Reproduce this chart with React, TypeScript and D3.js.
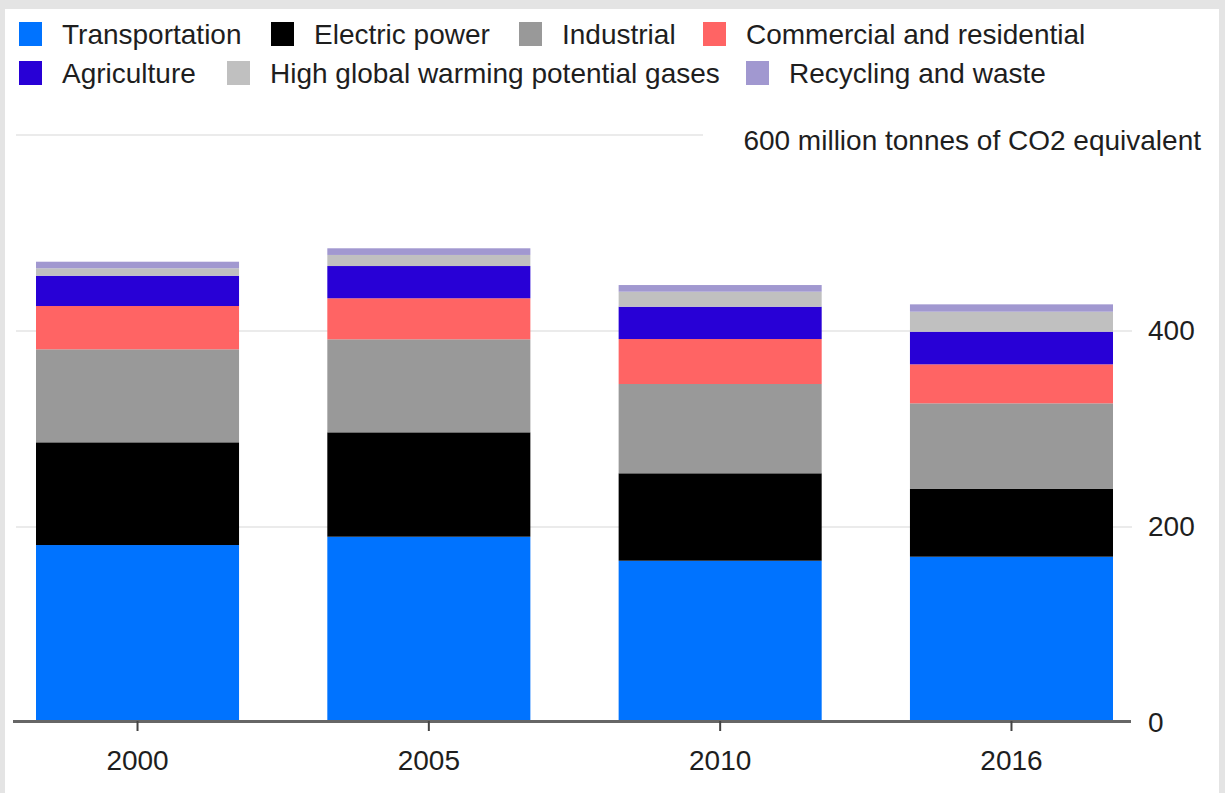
import React, { useEffect, useRef } from "react";
import * as d3 from "d3";

const years = ["2000", "2005", "2010", "2016"];
const sectors = [
  "Transportation",
  "Electric power",
  "Industrial",
  "Commercial and residential",
  "Agriculture",
  "High global warming potential gases",
  "Recycling and waste",
];
const sectorColors = ["#0073ff", "#000000", "#999999", "#ff6464", "#2800d6", "#c0c0c0", "#a198d0"];

const transportation = [181.6, 190.1, 165.6, 169.7];
const electricPower = [104.8, 106.5, 89.2, 69.1];
const industrial = [94.9, 94.9, 91.1, 87.4];
const commercialResidential = [44.2, 41.9, 45.9, 39.8];
const agriculture = [30.9, 32.9, 33.0, 33.3];
const highGWP = [7.6, 11.3, 15.3, 20.4];
const recyclingWaste = [6.7, 6.8, 6.8, 7.5];

const yTicks = [0, 200, 400];
const unitLabel = "600 million tonnes of CO2 equivalent";

const W = 1225;
const H = 793;
const FONT = "'Liberation Sans', Arial, sans-serif";
const TEXT = "#1e1e1e";

// legend layout (swatch left edges per row)
const legendRows = [
  { keys: [0, 1, 2, 3], xs: [19, 271, 519, 703], y: 22 },
  { keys: [4, 5, 6], xs: [19, 227, 746], y: 61 },
];

export default function App() {
  const ref = useRef<SVGSVGElement | null>(null);

  useEffect(() => {
    const svg = d3.select(ref.current);
    svg.selectAll("*").remove();

    const seriesArrays = [transportation, electricPower, industrial, commercialResidential, agriculture, highGWP, recyclingWaste];
    const table = years.map((y, i) => {
      const row: any = { year: y };
      sectors.forEach((s, k) => (row[s] = seriesArrays[k][i]));
      return row;
    });
    const stacked = d3.stack().keys(sectors)(table);

    const x = d3.scaleBand().domain(years).range([36, 1113]).paddingInner(0.303).paddingOuter(0);
    const y = d3.scaleLinear().domain([0, 600]).range([723, 135]);
    const color = d3.scaleOrdinal<string, string>().domain(sectors).range(sectorColors);

    // frame
    svg.append("rect").attr("width", W).attr("height", H).attr("fill", "#e4e4e4");
    svg.append("rect").attr("x", 5).attr("y", 9).attr("width", 1214).attr("height", H).attr("fill", "#ffffff");

    // gridlines
    const grid = svg.append("g");
    [200, 400].forEach((t) => {
      grid.append("line").attr("x1", 16).attr("x2", 1132).attr("y1", y(t)).attr("y2", y(t))
        .attr("stroke", "#ebebeb").attr("stroke-width", 2);
    });
    grid.append("line").attr("x1", 16).attr("x2", 703).attr("y1", y(600)).attr("y2", y(600))
      .attr("stroke", "#ebebeb").attr("stroke-width", 2);

    // bars
    const layers = svg.append("g").selectAll("g").data(stacked).join("g").attr("fill", (d: any) => color(d.key));
    layers.selectAll("rect").data((d: any) => d).join("rect")
      .attr("x", (d: any) => x(d.data.year)!)
      .attr("width", x.bandwidth())
      .attr("y", (d: any) => y(d[1]))
      .attr("height", (d: any) => y(d[0]) - y(d[1]));

    // x axis
    svg.append("line").attr("x1", 13).attr("x2", 1131).attr("y1", 721.5).attr("y2", 721.5)
      .attr("stroke", "#666").attr("stroke-width", 3);
    const xt = svg.append("g").selectAll("g").data(years).join("g")
      .attr("transform", (d) => `translate(${x(d)! + x.bandwidth() / 2},0)`);
    xt.append("line").attr("y1", 721).attr("y2", 731).attr("stroke", "#444").attr("stroke-width", 2);
    xt.append("text").attr("y", 770).attr("text-anchor", "middle").attr("font-family", FONT)
      .attr("font-size", 28).attr("fill", TEXT).text((d) => d);

    // y labels
    svg.append("g").selectAll("text").data(yTicks).join("text")
      .attr("x", 1148).attr("y", (d) => y(d) - 1).attr("dy", "0.35em")
      .attr("font-family", FONT).attr("font-size", 28).attr("fill", TEXT).text((d) => String(d));

    svg.append("text").attr("x", 1201).attr("y", 150).attr("text-anchor", "end")
      .attr("font-family", FONT).attr("font-size", 28).attr("fill", TEXT).text(unitLabel);

    // legend
    legendRows.forEach((row) => {
      row.keys.forEach((ki, j) => {
        const k = sectors[ki];
        const cx = row.xs[j];
        const g = svg.append("g");
        g.append("rect").attr("x", cx).attr("y", row.y).attr("width", 23).attr("height", 24).attr("fill", color(k));
        g.append("text").attr("x", cx + 43).attr("y", row.y + 22)
          .attr("font-family", FONT).attr("font-size", 28).attr("fill", TEXT).text(k);
      });
    });
  }, []);

  return (
    <svg ref={ref} width={W} height={H} style={{ position: "absolute", left: 0, top: 0, display: "block" }} />
  );
}
